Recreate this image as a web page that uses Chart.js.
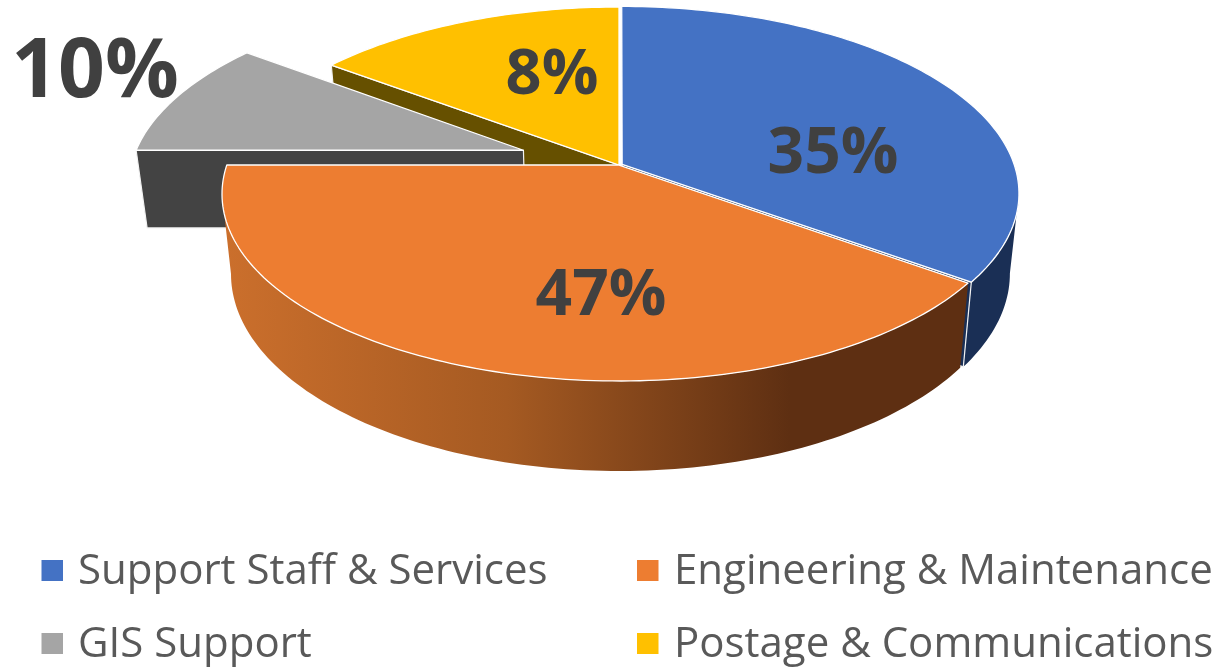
<!DOCTYPE html>
<html>
<head>
<meta charset="utf-8">
<style>html,body{margin:0;padding:0;background:#fff;overflow:hidden}canvas{display:block}</style>
<script src="https://cdn.jsdelivr.net/npm/chart.js@4"></script>
</head>
<body>
<canvas id="c" width="1221" height="669"></canvas>
<script>
const categories = ["Support Staff & Services", "Engineering & Maintenance", "GIS Support", "Postage & Communications"];
const sliceValues = [35, 40, 10.2, 14.8];
const sliceLabels = ["35%", "47%", "10%", "8%"];
const topColors = ["#4472C4", "#ED7D31", "#A5A5A5", "#FFC000"];
const wallColors = ["#1A2F55", "#5E2F12", "#434343", "#665000"];

const explode = [0.009, 0, 0.26, 0];
const visibleCut = ["end", null, "start", "start"];
const topRim = {cx: 619, cy: 194, rx: 397, ry: 187};
const botRim = {cx: 619, cy: 274, rx: 388, ry: 197};
const C = 0.155, S = Math.sqrt(1 - C * C);
const frontStart = Math.acos(-C), frontEnd = 2 * Math.PI - frontStart;

function project(rim, x, y) {
  const w = 1 - C * y;
  return [rim.cx + rim.rx * x * S / w, rim.cy + rim.ry * (y - C) / w];
}
function offs(i, a0, a1) {
  const m = (a0 + a1) / 2;
  return [explode[i] * Math.sin(m), -explode[i] * Math.cos(m)];
}
function rimPath(ctx, rim, a0, a1, o, first) {
  const n = Math.max(2, Math.ceil(Math.abs(a1 - a0) / 0.02));
  for (let k = 0; k <= n; k++) {
    const a = a0 + (a1 - a0) * k / n;
    const p = project(rim, Math.sin(a) + o[0], -Math.cos(a) + o[1]);
    if (k === 0 && first) ctx.moveTo(p[0], p[1]); else ctx.lineTo(p[0], p[1]);
  }
}
function band(ctx, a0, a1, o) {
  ctx.beginPath();
  rimPath(ctx, topRim, a0, a1, o, true);
  rimPath(ctx, botRim, a1, a0, o, false);
  ctx.closePath();
}
function cutFace(ctx, a, o) {
  const x = Math.sin(a) + o[0], y = -Math.cos(a) + o[1];
  const pts = [project(topRim, o[0], o[1]), project(topRim, x, y), project(botRim, x, y), project(botRim, o[0], o[1])];
  ctx.beginPath();
  pts.forEach((p, i) => i ? ctx.lineTo(p[0], p[1]) : ctx.moveTo(p[0], p[1]));
  ctx.closePath();
}
function topFace(ctx, a0, a1, o) {
  const c = project(topRim, o[0], o[1]);
  ctx.beginPath();
  ctx.moveTo(c[0], c[1]);
  rimPath(ctx, topRim, a0, a1, o, false);
  ctx.closePath();
}

const pie3d = {
  id: "pie3d",
  beforeDatasetsDraw(chart) {
    const ctx = chart.ctx;
    const arcs = chart.getDatasetMeta(0).data;
    ctx.save();
    ctx.lineJoin = "round";
    // painter's order: postage, GIS, support, engineering
    [3, 2, 0, 1].forEach(i => {
      const a0 = arcs[i].startAngle + Math.PI / 2;
      const a1 = arcs[i].endAngle + Math.PI / 2;
      const o = offs(i, a0, a1);
      let fill = wallColors[i];
      if (i === 1) {
        const g = ctx.createLinearGradient(225, 0, 790, 0);
        g.addColorStop(0, "#CB6F2C");
        g.addColorStop(0.5, "#A55A22");
        g.addColorStop(1, wallColors[1]);
        fill = g;
      }
      ctx.fillStyle = fill;
      const b0 = Math.max(a0, frontStart), b1 = Math.min(a1, frontEnd);
      if (b1 > b0) { band(ctx, b0, b1, o); ctx.fill(); }
      if (visibleCut[i]) {
        ctx.strokeStyle = "#F2F2F2";
        ctx.lineWidth = 1.2;
        cutFace(ctx, visibleCut[i] === "start" ? a0 : a1, o);
        ctx.fill(); ctx.stroke();
      }
      ctx.fillStyle = topColors[i];
      ctx.strokeStyle = "#FFFFFF";
      ctx.lineWidth = 1.3;
      topFace(ctx, a0, a1, o); ctx.fill(); ctx.stroke();
    });
    ctx.restore();
    return false;
  },
  afterDraw(chart) {
    const ctx = chart.ctx;
    ctx.save();
    ctx.textAlign = "center";
    ctx.textBaseline = "alphabetic";
    ctx.fillStyle = "#404040";
    const spots = [[833, 173, 64], [601, 315, 64], [95, 97, 82], [552, 94, 63]];
    sliceLabels.forEach((t, i) => {
      ctx.font = "bold " + spots[i][2] + "px 'Open Sans'";
      ctx.fillText(t, spots[i][0], spots[i][1]);
    });
    ctx.textAlign = "left";
    ctx.font = "42px 'Open Sans'";
    const cols = [41.5, 637], rows = [584, 657];
    categories.forEach((t, i) => {
      const cx = cols[i % 2], by = rows[i >> 1];
      ctx.fillStyle = topColors[i];
      ctx.fillRect(cx, by - 24, 21.5, 21);
      ctx.fillStyle = "#595959";
      ctx.fillText(t, Math.round(cx) + 36 + (i % 2), by);
    });
    ctx.restore();
  }
};

new Chart(document.getElementById("c"), {
  type: "pie",
  data: {labels: categories, datasets: [{data: sliceValues, backgroundColor: topColors}]},
  options: {
    responsive: false,
    animation: false,
    plugins: {legend: {display: false}, tooltip: {enabled: false}}
  },
  plugins: [pie3d]
});
</script>
</body>
</html>
